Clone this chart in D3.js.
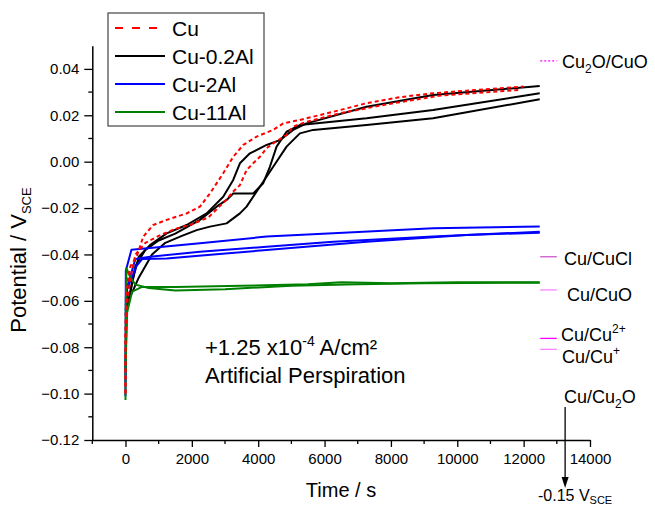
<!DOCTYPE html>
<html><head><meta charset="utf-8">
<script src="https://cdn.jsdelivr.net/npm/d3@7"></script>
<style>body{margin:0;background:#fff} svg text{font-family:"Liberation Sans",Arial,sans-serif;fill:#000}</style>
</head><body><svg id="c" width="655" height="508"></svg>
<script>
// ---- data (time in s, potential in V vs SCE) ----
const xMajorTicks=[0,2000,4000,6000,8000,10000,12000,14000];
const xMinorTicks=[-1000,1000,3000,5000,7000,9000,11000,13000];
const yMajorTicks=[-0.12,-0.10,-0.08,-0.06,-0.04,-0.02,0.00,0.02,0.04];
const yMinorTicks=[-0.11,-0.09,-0.07,-0.05,-0.03,-0.01,0.01,0.03];
const seriesNames=["Cu","Cu-0.2Al","Cu-2Al","Cu-11Al"];

const cuT1=[0,0,30,80,150,337,536,837,1241,1843,2244,2545,2946,3247,3548,3952,4452,4753,5256,6259,7265,8268,9271,10277,11280,12000];
const cuV1=[-0.100,-0.070,-0.058,-0.050,-0.045,-0.041,-0.0323,-0.0273,-0.0251,-0.0223,-0.0194,-0.0137,-0.005,0.0021,0.0072,0.0108,0.0137,0.0165,0.018,0.0215,0.0252,0.0278,0.0295,0.0306,0.0316,0.0324];
const cuT2=[0,0,60,150,300,600,1000,1500,2000,2500,3000,3247,3449,3650,3850,4051,4253,4452,4855,5054,5458,6500,8000,9500,11000,11900];
const cuV2=[-0.100,-0.075,-0.060,-0.050,-0.040,-0.035,-0.032,-0.029,-0.027,-0.024,-0.017,-0.0129,-0.0101,-0.0036,-0.0007,0.0021,0.0058,0.0079,0.0115,0.0151,0.0172,0.0210,0.0250,0.0285,0.0300,0.0310];

const al02T1=[0,50,200,400,738,1241,1843,2446,2946,3247,3449,3750,4253,4654,5054,5458,7265,9271,12485];
const al02V1=[-0.066,-0.063,-0.052,-0.041,-0.036,-0.0309,-0.0273,-0.0223,-0.0151,-0.0079,-0.0007,0.0036,0.0072,0.0093,0.0137,0.0165,0.0237,0.0287,0.0326];
const al02T2=[0,100,300,600,1000,1500,2244,2747,3048,3247,3850,4151,4352,4554,4855,5256,7265,9271,12485];
const al02V2=[-0.064,-0.060,-0.045,-0.038,-0.034,-0.031,-0.0251,-0.0194,-0.0165,-0.0137,-0.0137,-0.0093,-0.0022,0.0065,0.0129,0.0158,0.0187,0.0223,0.0295];
const al02T3=[0,150,400,800,1200,1700,2145,2545,3048,3449,3650,4051,4452,4855,5256,5657,7265,9271,12485];
const al02V3=[-0.062,-0.058,-0.050,-0.040,-0.035,-0.032,-0.0295,-0.0280,-0.0266,-0.0223,-0.0194,-0.0108,-0.0022,0.0065,0.0122,0.0137,0.0158,0.0187,0.0269];

const al2T1=[0,10,180,2244,4252,6259,9271,12485];
const al2V1=[-0.101,-0.047,-0.038,-0.0352,-0.0323,-0.0309,-0.0287,-0.0280];
const al2T2=[0,30,300,740,2244,4252,6259,9271,12485];
const al2V2=[-0.095,-0.055,-0.042,-0.041,-0.0388,-0.0367,-0.0345,-0.0323,-0.0302];
const al2T3=[0,50,330,500,1240,4252,7265,10277,12485];
const al2V3=[-0.090,-0.055,-0.045,-0.042,-0.0417,-0.0381,-0.0345,-0.0316,-0.0306];

const al11T1=[0,10,30,150,300,700,1500,3000,5000,7000,9000,12485];
const al11V1=[-0.1028,-0.060,-0.046,-0.050,-0.053,-0.0545,-0.0555,-0.0550,-0.0535,-0.0528,-0.0524,-0.0522];
const al11T2=[0,50,200,500,1500,3500,5500,6500,8000,10000,12485];
const al11V2=[-0.090,-0.065,-0.056,-0.054,-0.054,-0.0535,-0.0528,-0.0520,-0.0524,-0.0520,-0.0520];

// reference equilibrium potentials
const refNames=["Cu2O/CuO","Cu/CuCl","Cu/CuO","Cu/Cu2+","Cu/Cu+"];
const refValues=[0.0435,-0.041,-0.0553,-0.0762,-0.0809];
const refColors=["#ff00ff","#cc55cc","#ff80ff","#ff00ff","#ff80ff"];
const refTimes=[12500,13000];
const arrowTime=13250;

// ---- drawing ----
const svg=d3.select("#c");
const x=d3.scaleLinear().domain([-1000,14000]).range([92.3,590]);
const y=d3.scaleLinear().domain([-0.12,0.05]).range([440,45.7]);

const zip=(T,V)=>T.map((t,i)=>[t,V[i]]);
const line=d3.line().x(d=>x(d[0])).y(d=>y(d[1]));

// axes
const gx=svg.append("g").attr("transform","translate(0,440)")
  .call(d3.axisBottom(x).tickValues(xMajorTicks).tickSize(7).tickSizeOuter(0).tickPadding(6).tickFormat(d3.format("d")));
gx.append("g").selectAll("line").data(xMinorTicks).join("line")
  .attr("x1",d=>x(d)).attr("x2",d=>x(d)).attr("y1",0).attr("y2",4).attr("stroke","#000").attr("stroke-width",1.3);
const gy=svg.append("g").attr("transform","translate(92.3,0)")
  .call(d3.axisLeft(y).tickValues(yMajorTicks).tickSize(8).tickSizeOuter(0).tickPadding(5).tickFormat(d3.format(".2f")));
gy.append("g").selectAll("line").data(yMinorTicks).join("line")
  .attr("y1",d=>y(d)).attr("y2",d=>y(d)).attr("x1",0).attr("x2",-4).attr("stroke","#000").attr("stroke-width",1.3);
[gx,gy].forEach(g=>{
  g.selectAll("path.domain").attr("stroke","#000").attr("stroke-width",1.5);
  g.selectAll(".tick line").attr("stroke","#000").attr("stroke-width",1.3);
  g.selectAll(".tick text").style("font-family","'Liberation Sans',Arial,sans-serif").style("font-size","15px").attr("fill","#000");
});

// axis titles
svg.append("text").attr("x",341).attr("y",497).attr("text-anchor","middle").style("font-size","20px").text("Time / s");
const yt=svg.append("text").attr("transform","translate(26,260) rotate(-90)").attr("text-anchor","middle").style("font-size","22px");
yt.append("tspan").text("Potential / V");
yt.append("tspan").attr("dy",5).style("font-size","13px").text("SCE");

// curves
const groups=[
  {c:"#000000",dash:null,sets:[zip(al02T1,al02V1),zip(al02T2,al02V2),zip(al02T3,al02V3)]},
  {c:"#0000ff",dash:null,sets:[zip(al2T1,al2V1),zip(al2T2,al2V2),zip(al2T3,al2V3)]},
  {c:"#008000",dash:null,sets:[zip(al11T1,al11V1),zip(al11T2,al11V2)]},
  {c:"#ff0000",dash:"4,3",sets:[zip(cuT1,cuV1),zip(cuT2,cuV2)]}
];
groups.forEach(g=>{
  g.sets.forEach(s=>{
    svg.append("path").attr("d",line(s)).attr("fill","none").attr("stroke",g.c)
      .attr("stroke-width",2).attr("stroke-dasharray",g.dash).attr("stroke-linejoin","round");
  });
});

// reference potential marks
refValues.forEach((v,i)=>{
  svg.append("line").attr("x1",x(refTimes[0])).attr("x2",x(refTimes[1])).attr("y1",y(v)).attr("y2",y(v))
    .attr("stroke",refColors[i]).attr("stroke-width",1.3).attr("stroke-dasharray",i===0?"2,2":null);
});
function label(xp,yp,parts){
  const t=svg.append("text").attr("x",xp).attr("y",yp).style("font-size","18px");
  parts.forEach(p=>{
    const s=t.append("tspan").text(p[0]);
    if(p[1]==="sub") s.attr("dy",5).style("font-size","12px");
    else if(p[1]==="sup") s.attr("dy",-8).style("font-size","12px");
    else if(p[1]==="base") s.attr("dy",p[2]);
  });
  return t;
}
label(562,68,[["Cu"],["2","sub"],["O/CuO","base",-5]]);
label(564,265,[["Cu/CuCl"]]);
label(567,301,[["Cu/CuO"]]);
label(561,341,[["Cu/Cu"],["2+","sup"]]);
label(562,363,[["Cu/Cu"],["+","sup"]]);
label(564,403,[["Cu/Cu"],["2","sub"],["O","base",-5]]);

// arrow to -0.15 V
svg.append("line").attr("x1",x(arrowTime)).attr("x2",x(arrowTime)).attr("y1",407).attr("y2",478).attr("stroke","#000").attr("stroke-width",1.3);
const ax=x(arrowTime);
svg.append("path").attr("d",`M${ax-3.5},477 L${ax+3.5},477 L${ax},488 Z`).attr("fill","#000");
const bt=svg.append("text").attr("x",538).attr("y",501).style("font-size","16px");
bt.append("tspan").text("-0.15 V");
bt.append("tspan").attr("dy",3).style("font-size","11px").text("SCE");

// condition text
const c1=svg.append("text").attr("x",205).attr("y",355).style("font-size","22px");
c1.append("tspan").text("+1.25 x10");
c1.append("tspan").attr("dy",-9).style("font-size","14px").text("-4");
c1.append("tspan").attr("dy",9).text(" A/cm\u00b2");
svg.append("text").attr("x",205).attr("y",383).style("font-size","22px").text("Artificial Perspiration");

// legend
const lg=svg.append("g");
lg.append("rect").attr("x",108).attr("y",13).attr("width",156).attr("height",113).attr("fill","#fff").attr("stroke","#444").attr("stroke-width",1.2);
const legColors=["#ff0000","#000000","#0000ff","#008000"];
const legY=[28,56,84,112];
seriesNames.forEach((n,i)=>{
  lg.append("line").attr("x1",115).attr("x2",165).attr("y1",legY[i]).attr("y2",legY[i])
    .attr("stroke",legColors[i]).attr("stroke-width",2).attr("stroke-dasharray",i===0?"8,9":null);
  lg.append("text").attr("x",172).attr("y",legY[i]+7.5).style("font-size","21px").text(n);
});
</script></body></html>
